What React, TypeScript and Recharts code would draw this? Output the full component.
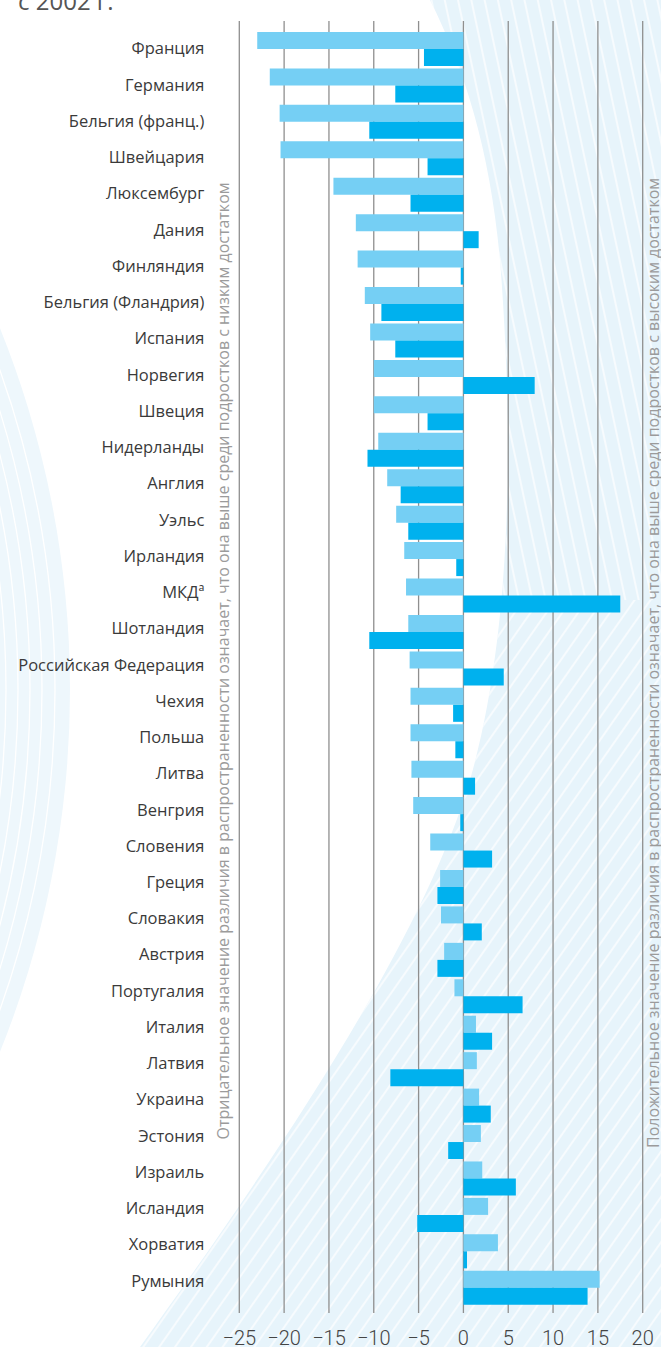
import React from 'react';
import { BarChart, Bar, XAxis, YAxis, CartesianGrid } from 'recharts';

const countries = [
  'Франция', 'Германия', 'Бельгия (франц.)', 'Швейцария', 'Люксембург', 'Дания',
  'Финляндия', 'Бельгия (Фландрия)', 'Испания', 'Норвегия', 'Швеция', 'Нидерланды',
  'Англия', 'Уэльс', 'Ирландия', 'МКДª', 'Шотландия', 'Российская Федерация',
  'Чехия', 'Польша', 'Литва', 'Венгрия', 'Словения', 'Греция', 'Словакия', 'Австрия',
  'Португалия', 'Италия', 'Латвия', 'Украина', 'Эстония', 'Израиль', 'Исландия',
  'Хорватия', 'Румыния'
];

// light bars (upper bar of each pair)
const seriesLight = [
  -23.0, -21.6, -20.5, -20.4, -14.5, -12.0, -11.8, -11.0, -10.4, -10.0, -10.0, -9.5,
  -8.5, -7.5, -6.6, -6.4, -6.15, -6.0, -5.9, -5.9, -5.8, -5.6, -3.7, -2.6, -2.5, -2.15,
  -1.0, 1.4, 1.5, 1.75, 1.95, 2.1, 2.75, 3.85, 15.2
];

// dark bars (lower bar of each pair)
const seriesDark = [
  -4.4, -7.6, -10.5, -4.0, -5.9, 1.7, -0.3, -9.15, -7.6, 7.95, -4.0, -10.7,
  -7.0, -6.15, -0.8, 17.5, -10.5, 4.5, -1.15, -0.9, 1.3, -0.35, 3.2, -2.9, 2.05, -2.9,
  6.6, 3.2, -8.15, 3.05, -1.7, 5.85, -5.15, 0.4, 13.85
];

const xTicks = [-25, -20, -15, -10, -5, 0, 5, 10, 15, 20];

const data = countries.map((name, i) => ({ name, light: seriesLight[i], dark: seriesDark[i] }));

const LIGHT = '#75CFF4';
const DARK = '#00B1EE';

// country labels sit a touch higher than the bar pairs as you go down
const CountryTick = (props: any) => {
  const { x, y, payload, index } = props;
  const i = typeof index === 'number' ? index : payload.index;
  return (
    <text
      x={x}
      y={y - i * 0.19}
      dy="0.355em"
      textAnchor="end"
      fill="#3a3a3a"
      fontSize={16.5}
      fontFamily="Open Sans"
    >
      {payload.value}
    </text>
  );
};

const Background = () => (
  <svg width={661} height={1347} style={{ position: 'absolute', left: 0, top: 0 }}>
    <defs>
      <pattern id="hatchTop" width="13" height="13" patternUnits="userSpaceOnUse" patternTransform="rotate(-12)">
        <line x1="6" y1="0" x2="6" y2="13" stroke="#ffffff" strokeWidth="1.3" />
      </pattern>
      <pattern id="hatchBottom" width="13" height="13" patternUnits="userSpaceOnUse" patternTransform="rotate(35)">
        <line x1="6" y1="0" x2="6" y2="13" stroke="#ffffff" strokeWidth="1.3" />
      </pattern>
      <clipPath id="swoosh">
        <path d="M430,0 L661,0 L661,1347 L140,1347 C260,1180 420,950 470,780 C510,640 515,450 500,260 C490,150 465,70 430,0 Z" />
      </clipPath>
      <clipPath id="leftArc">
        <circle cx={-900} cy={690} r={970} />
      </clipPath>
    </defs>
    <g clipPath="url(#swoosh)">
      <rect x={0} y={0} width={661} height={1347} fill="#E7F4FB" />
      <rect x={0} y={0} width={661} height={600} fill="url(#hatchTop)" />
      <rect x={0} y={600} width={661} height={747} fill="url(#hatchBottom)" />
    </g>
    <g clipPath="url(#leftArc)">
      <rect x={0} y={0} width={120} height={1347} fill="#EEF7FC" />
      {[955, 942, 930, 918, 906].map((r) => (
        <circle key={r} cx={-900} cy={690} r={r} fill="none" stroke="#ffffff" strokeWidth={1.3} />
      ))}
    </g>
    <text x={18} y={10} fontFamily="Open Sans" fontSize={24} fill="#555555">с 2002 г.</text>
    <text
      transform="translate(229, 661) rotate(-90)"
      textAnchor="middle"
      fontFamily="Open Sans"
      fontSize={16}
      fill="#9b9b9b"
      textLength={957}
      lengthAdjust="spacingAndGlyphs"
    >
      Отрицательное значение различия в распространенности означает, что она выше среди подростков с низким достатком
    </text>
    <text
      transform="translate(659, 663) rotate(-90)"
      textAnchor="middle"
      fontFamily="Open Sans"
      fontSize={16}
      fill="#9b9b9b"
      textLength={970}
      lengthAdjust="spacingAndGlyphs"
    >
      Положительное значение различия в распространенности означает, что она выше среди подростков с высоким достатком
    </text>
  </svg>
);

export default function App() {
  return (
    <div style={{ position: 'absolute', left: 0, top: 0, width: 661, height: 1347, overflow: 'hidden', background: '#ffffff' }}>
      <Background />
      <div style={{ position: 'absolute', left: 0, top: 0 }}>
        <BarChart
          width={661}
          height={1347}
          data={data}
          layout="vertical"
          margin={{ top: 21, right: 18.3, bottom: 0, left: 0 }}
          barCategoryGap={1.7}
          barGap={0}
        >
          <CartesianGrid horizontal={false} stroke="#8f8f8f" strokeWidth={1.3} />
          <XAxis
            type="number"
            domain={[-25, 20]}
            ticks={xTicks}
            height={34}
            axisLine={false}
            tickLine={false}
            tickMargin={12}
            interval={0}
            tickFormatter={(v: number) => String(v).replace('-', '\u2212')}
            tick={{ fill: '#444444', fontSize: 20, fontFamily: 'Roboto', fontWeight: 300 }}
          />
          <YAxis
            type="category"
            dataKey="name"
            width={239.3}
            axisLine={false}
            tickLine={false}
            tickMargin={29}
            interval={0}
            padding={{ top: 9.3, bottom: 7.5 }}
            tick={<CountryTick />}
          />
          <Bar dataKey="light" fill={LIGHT} isAnimationActive={false} />
          <Bar dataKey="dark" fill={DARK} isAnimationActive={false} />
        </BarChart>
      </div>
    </div>
  );
}
